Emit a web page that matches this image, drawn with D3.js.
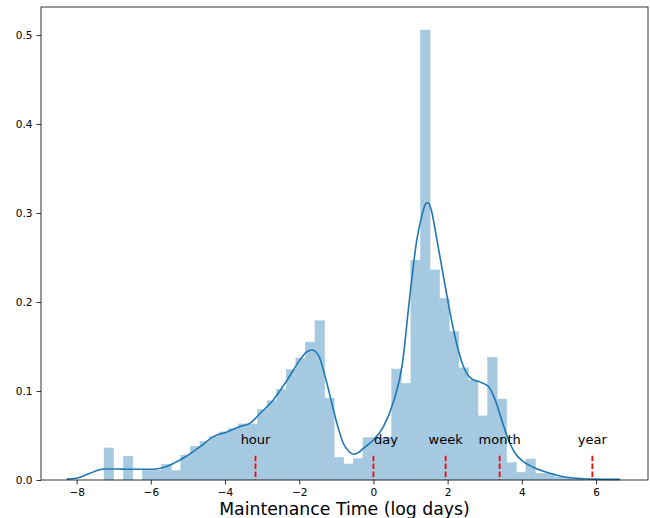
<!DOCTYPE html>
<html>
<head>
<meta charset="utf-8">
<script src="https://cdn.jsdelivr.net/npm/d3@7"></script>
<style>
    body { margin: 0; background: #fff; }
    svg { font-family: "DejaVu Sans", sans-serif; }
</style>
</head>
<body>
<svg id="chart" width="650" height="518"></svg>
<script>
// histogram: 50 equal bins between binLo and binHi (log days), density heights
const binLo = -7.26;
const binHi = 5.66;
const binHeights = [
    0.036, 0, 0.0266, 0, 0.011, 0.011, 0.0176, 0.0105, 0.028, 0.038,
    0.043, 0.049, 0.054, 0.058, 0.063, 0.063, 0.079, 0.089, 0.102, 0.124,
    0.137, 0.155, 0.179, 0.092, 0.0255, 0.018, 0.024, 0.0476, 0.0476, 0.0476,
    0.1247, 0.1086, 0.247, 0.5056, 0.236, 0.204, 0.1667, 0.126, 0.112, 0.072,
    0.138, 0.091, 0.0195, 0.0086, 0.0236, 0.0075, 0.0075, 0.0035, 0.002, 0.001
];

// kde curve
const kdeX = [-8.27, -8.0, -7.64, -7.28, -6.92, -6.56, -6.29, -5.93, -5.66, -5.39,
    -5.03, -4.67, -4.31, -3.95, -3.59, -3.32, -3.05, -2.70, -2.33, -1.98,
    -1.80, -1.66, -1.48, -1.30, -1.12, -0.96, -0.81, -0.66, -0.54, -0.40,
    -0.27, 0.0, 0.27, 0.54, 0.77, 0.99, 1.17, 1.30, 1.42, 1.48,
    1.57, 1.71, 1.89, 2.07, 2.25, 2.43, 2.65, 2.88, 3.10, 3.28,
    3.46, 3.64, 3.82, 4.04, 4.31, 4.67, 5.03, 5.39, 5.93, 6.65];
const kdeY = [0.001, 0.002, 0.0075, 0.0124, 0.0124, 0.012, 0.012, 0.012, 0.014, 0.0187,
    0.027, 0.0375, 0.0487, 0.054, 0.060, 0.064, 0.075, 0.090, 0.112, 0.135,
    0.144, 0.146, 0.140, 0.116, 0.086, 0.060, 0.041, 0.032, 0.029, 0.031,
    0.0356, 0.045, 0.060, 0.088, 0.128, 0.21, 0.27, 0.296, 0.311, 0.3116,
    0.3015, 0.27, 0.228, 0.187, 0.152, 0.127, 0.1135, 0.110, 0.105, 0.090,
    0.067, 0.045, 0.030, 0.0206, 0.0143, 0.0086, 0.0045, 0.0022, 0.001, 0.0007];

// reference durations (log days) and their labels
const markNames = ['hour', 'day', 'week', 'month', 'year'];
const markValues = [Math.log(1 / 24), Math.log(1), Math.log(7), Math.log(30), Math.log(365)];
const markLabelShift = [0, 0.34, 0, 0, 0];

const xTicks = [-8, -6, -4, -2, 0, 2, 4, 6];
const yTicks = [0, 0.1, 0.2, 0.3, 0.4, 0.5];

const margin = { top: 7, right: 2, bottom: 38, left: 41 };
const width = 650;
const height = 518;
const blue = '#1f77b4';
const barFill = '#a5c9e1';   // blue at 0.4 alpha over white

const svg = d3.select('#chart');

const x = d3.scaleLinear().domain([-8.96, 7.40]).range([margin.left, width - margin.right]);
const y = d3.scaleLinear().domain([0, 0.5315]).range([height - margin.bottom, margin.top]);

const binWidth = (binHi - binLo) / binHeights.length;
const bins = binHeights.map((h, i) => ({ x0: binLo + i * binWidth, x1: binLo + (i + 1) * binWidth, h }));

// bars (opaque fill + same-colour hairline so neighbours don't show seams)
svg.append('g')
    .attr('fill', barFill)
    .attr('stroke', barFill)
    .attr('stroke-width', 0.5)
    .selectAll('rect')
    .data(bins.filter(d => d.h > 0))
    .join('rect')
    .attr('x', d => x(d.x0))
    .attr('width', d => x(d.x1) - x(d.x0))
    .attr('y', d => y(d.h))
    .attr('height', d => y(0) - y(d.h));

// kde line
const kde = kdeX.map((v, i) => [v, kdeY[i]]);
svg.append('path')
    .datum(kde)
    .attr('fill', 'none')
    .attr('stroke', blue)
    .attr('stroke-width', 1.6)
    .attr('stroke-linejoin', 'round')
    .attr('d', d3.line().x(d => x(d[0])).y(d => y(d[1])).curve(d3.curveMonotoneX));

// red markers + labels
const marks = markNames.map((n, i) => ({ name: n, v: markValues[i], shift: markLabelShift[i] }));
const mg = svg.append('g');
mg.selectAll('line')
    .data(marks)
    .join('line')
    .attr('x1', d => x(d.v))
    .attr('x2', d => x(d.v))
    .attr('y1', y(0.0273))
    .attr('y2', y(0))
    .attr('stroke', '#f00')
    .attr('stroke-width', 1.8)
    .attr('stroke-dasharray', '5.5,2.4');
mg.selectAll('text')
    .data(marks)
    .join('text')
    .attr('x', d => x(d.v + d.shift))
    .attr('y', y(0.04))
    .attr('text-anchor', 'middle')
    .attr('font-size', 13)
    .attr('fill', '#000')
    .text(d => d.name);

// axes
const xAxis = svg.append('g')
    .attr('transform', `translate(0,${height - margin.bottom})`)
    .call(d3.axisBottom(x).tickValues(xTicks).tickSize(4.5).tickPadding(4)
        .tickFormat(d => d < 0 ? '\u2212' + Math.abs(d) : d));
const yAxis = svg.append('g')
    .attr('transform', `translate(${margin.left},0)`)
    .call(d3.axisLeft(y).tickValues(yTicks).tickSize(4.5).tickPadding(4)
        .tickFormat(d3.format('.1f')));

[xAxis, yAxis].forEach(a => {
    a.select('.domain').remove();
    a.selectAll('text').attr('font-size', 10.5).attr('font-family', 'DejaVu Sans').attr('fill', '#000');
    a.selectAll('line').attr('stroke', '#000').attr('stroke-width', 0.8);
});

// frame
svg.append('rect')
    .attr('x', margin.left)
    .attr('y', margin.top)
    .attr('width', width - margin.left - margin.right)
    .attr('height', height - margin.top - margin.bottom)
    .attr('fill', 'none')
    .attr('stroke', '#000')
    .attr('stroke-width', 0.8);

svg.append('text')
    .attr('x', (margin.left + width - margin.right) / 2)
    .attr('y', 515)
    .attr('text-anchor', 'middle')
    .attr('font-size', 17.3)
    .attr('fill', '#000')
    .text('Maintenance Time (log days)');
</script>
</body>
</html>
